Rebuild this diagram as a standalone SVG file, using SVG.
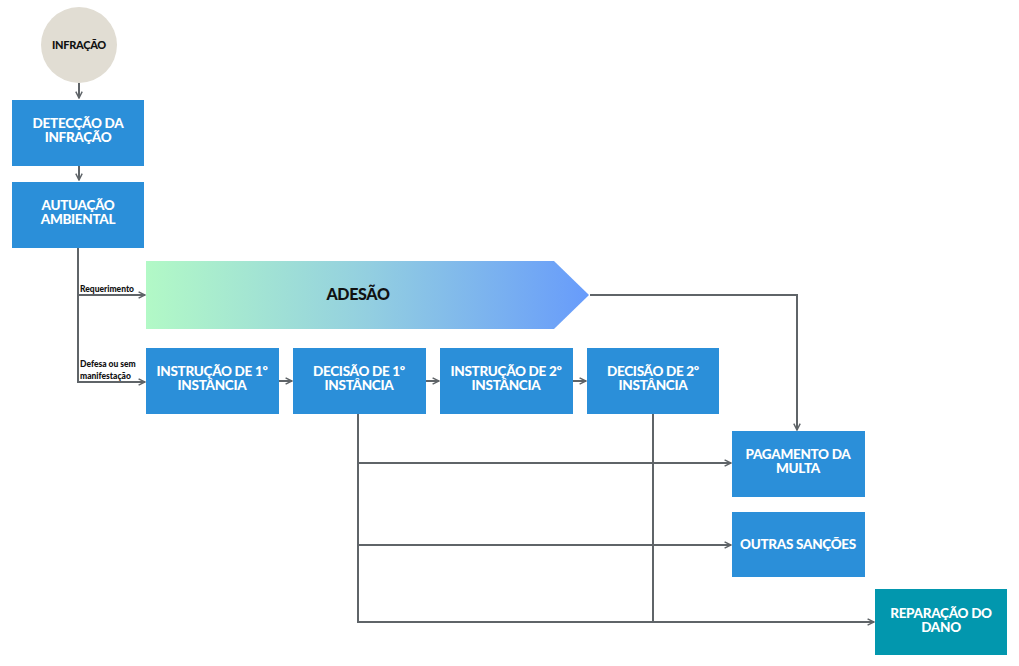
<svg xmlns="http://www.w3.org/2000/svg" width="1019" height="666" viewBox="0 0 1019 666">
<defs>
<linearGradient id="gAdesao" x1="146" y1="0" x2="590" y2="0" gradientUnits="userSpaceOnUse">
<stop offset="0" stop-color="#b2f9c6"/>
<stop offset="0.5" stop-color="#93cfe0"/>
<stop offset="1" stop-color="#679bfb"/>
</linearGradient>
<marker id="arr" viewBox="0 0 10 10" refX="9" refY="5" markerWidth="8" markerHeight="8" markerUnits="userSpaceOnUse" orient="auto">
<path d="M1,1 L9,5 L1,9" fill="none" stroke="#5f6468" stroke-width="1.8"/>
</marker>
</defs>
<style>
.box{fill:#2b8fd9}
.teal{fill:#0297ae}
.t{font-family:Lato,"Open Sans","Liberation Sans",sans-serif;font-weight:900;font-size:13.5px;fill:#ffffff;text-anchor:middle;letter-spacing:-0.3px}
.dark{fill:#111111}
.lbl{font-family:Lato,"Liberation Sans",sans-serif;font-weight:900;font-size:8.5px;fill:#111111}
.ln{fill:none;stroke:#5f6468;stroke-width:2}
</style>
<rect width="1019" height="666" fill="#ffffff"/>
<g id="connectors">
<path class="ln" d="M79,83 L79,98" marker-end="url(#arr)"/>
<path class="ln" d="M79,166 L79,180" marker-end="url(#arr)"/>
<path class="ln" d="M78,248 L78,382 L145,382" marker-end="url(#arr)"/>
<path class="ln" d="M78,295 L145,295" marker-end="url(#arr)"/>
<path class="ln" d="M279,381 L292,381" marker-end="url(#arr)"/>
<path class="ln" d="M426,381 L439,381" marker-end="url(#arr)"/>
<path class="ln" d="M573,381 L586,381" marker-end="url(#arr)"/>
<path class="ln" d="M590,295 L797,295 L797,430" marker-end="url(#arr)"/>
<path class="ln" d="M358,414 L358,622 L874,622" marker-end="url(#arr)"/>
<path class="ln" d="M653,414 L653,622"/>
<path class="ln" d="M358,463 L731,463" marker-end="url(#arr)"/>
<path class="ln" d="M358,545 L731,545" marker-end="url(#arr)"/>
<text class="lbl" x="80" y="292">Requerimento</text>
<text class="lbl" x="80" y="367">Defesa ou sem</text>
<text class="lbl" x="80" y="379">manifestação</text>
</g>
<g id="infracao">
<circle cx="79" cy="45" r="38" fill="#e1ddd3"/>
<text class="t dark" x="79" y="49" style="font-size:11px">INFRAÇÃO</text>
</g>
<g id="deteccao">
<rect class="box" x="12" y="100" width="132" height="66"/>
<text class="t" x="78" y="128">DETECÇÃO DA</text>
<text class="t" x="78" y="142">INFRAÇÃO</text>
</g>
<g id="autuacao">
<rect class="box" x="12" y="182" width="132" height="66"/>
<text class="t" x="78" y="210">AUTUAÇÃO</text>
<text class="t" x="78" y="224">AMBIENTAL</text>
</g>
<g id="adesao">
<path d="M146,261 L554,261 L589,295 L554,329 L146,329 Z" fill="url(#gAdesao)"/>
<text class="t dark" x="358" y="300" style="font-size:16px">ADESÃO</text>
</g>
<g id="instrucao1">
<rect class="box" x="146" y="348" width="133" height="66"/>
<text class="t" x="212" y="376">INSTRUÇÃO DE 1º</text>
<text class="t" x="212" y="390">INSTÂNCIA</text>
</g>
<g id="decisao1">
<rect class="box" x="293" y="348" width="133" height="66"/>
<text class="t" x="359" y="376">DECISÃO DE 1º</text>
<text class="t" x="359" y="390">INSTÂNCIA</text>
</g>
<g id="instrucao2">
<rect class="box" x="440" y="348" width="133" height="66"/>
<text class="t" x="506" y="376">INSTRUÇÃO DE 2º</text>
<text class="t" x="506" y="390">INSTÂNCIA</text>
</g>
<g id="decisao2">
<rect class="box" x="587" y="348" width="132" height="66"/>
<text class="t" x="653" y="376">DECISÃO DE 2º</text>
<text class="t" x="653" y="390">INSTÂNCIA</text>
</g>
<g id="pagamento">
<rect class="box" x="732" y="431" width="133" height="66"/>
<text class="t" x="798" y="459">PAGAMENTO DA</text>
<text class="t" x="798" y="473">MULTA</text>
</g>
<g id="outras">
<rect class="box" x="732" y="512" width="133" height="65"/>
<text class="t" x="798" y="549">OUTRAS SANÇÕES</text>
</g>
<g id="reparacao">
<rect class="teal" x="875" y="589" width="132" height="66"/>
<text class="t" x="941" y="618">REPARAÇÃO DO</text>
<text class="t" x="941" y="632">DANO</text>
</g>
</svg>
